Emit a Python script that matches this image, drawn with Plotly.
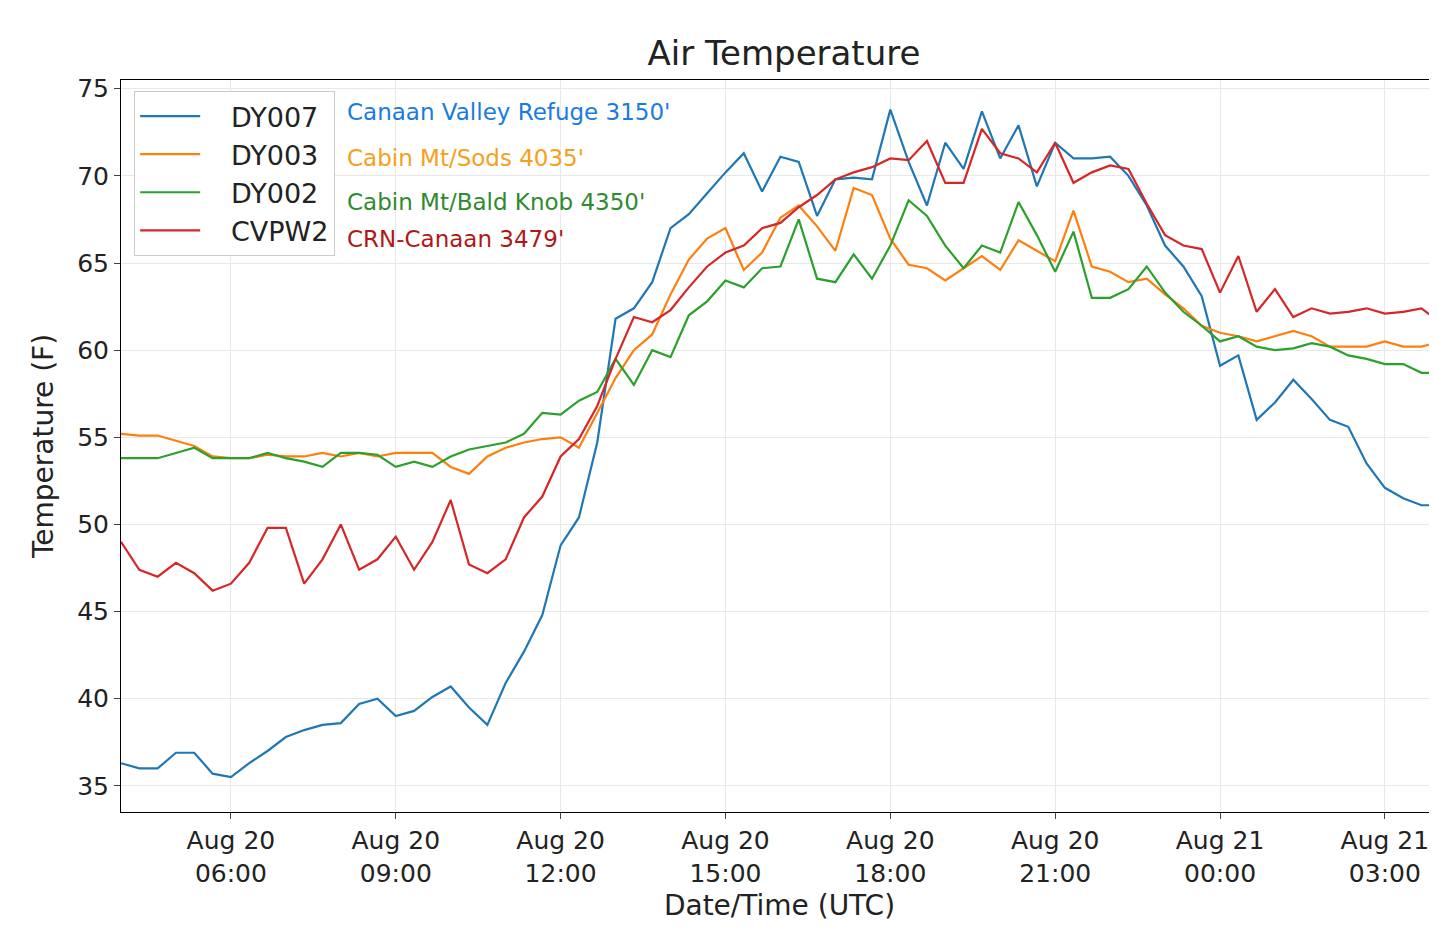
import pandas as pd
import plotly.graph_objects as go

# 20-minute observations starting Aug 20 04:00 UTC
start = "2018-08-20 04:00"

dy007 = [36.3, 36.0, 36.0, 36.9, 36.9, 35.7, 35.5, 36.3, 37.0, 37.8, 38.2, 38.5, 38.6, 39.7, 40.0, 39.0,
         39.3, 40.1, 40.7, 39.5, 38.5, 40.9, 42.7, 44.8, 48.8, 50.4, 54.7, 61.8, 62.4, 63.9, 67.0, 67.8,
         69.0, 70.2, 71.3, 69.1, 71.1, 70.8, 67.7, 69.8, 69.9, 69.8, 73.8, 70.8, 68.3, 71.9, 70.4, 73.7,
         71.0, 72.9, 69.4, 71.9, 71.0, 71.0, 71.1, 70.0, 68.3, 66.0, 64.8, 63.1, 59.1, 59.7, 56.0, 57.0,
         58.3, 57.2, 56.0, 55.6, 53.5, 52.1, 51.5, 51.1, 51.1]
dy003 = [55.2, 55.1, 55.1, 54.8, 54.5, 53.9, 53.8, 53.8, 54.0, 53.9, 53.9, 54.1, 53.9, 54.1, 53.9, 54.1,
         54.1, 54.1, 53.3, 52.9, 53.9, 54.4, 54.7, 54.9, 55.0, 54.4, 56.4, 58.4, 60.0, 60.9, 63.2, 65.2,
         66.4, 67.0, 64.6, 65.6, 67.6, 68.3, 67.1, 65.7, 69.3, 68.9, 66.4, 64.9, 64.7, 64.0, 64.7, 65.4,
         64.6, 66.3, 65.7, 65.1, 68.0, 64.8, 64.5, 63.9, 64.1, 63.2, 62.4, 61.4, 61.0, 60.8, 60.5, 60.8,
         61.1, 60.8, 60.2, 60.2, 60.2, 60.5, 60.2, 60.2, 60.5]
dy002 = [53.8, 53.8, 53.8, 54.1, 54.4, 53.8, 53.8, 53.8, 54.1, 53.8, 53.6, 53.3, 54.1, 54.1, 54.0, 53.3,
         53.6, 53.3, 53.9, 54.3, 54.5, 54.7, 55.2, 56.4, 56.3, 57.1, 57.6, 59.5, 58.0, 60.0, 59.6, 62.0,
         62.8, 64.0, 63.6, 64.7, 64.8, 67.5, 64.1, 63.9, 65.5, 64.1, 66.0, 68.6, 67.7, 66.0, 64.7, 66.0,
         65.6, 68.5, 66.6, 64.5, 66.8, 63.0, 63.0, 63.5, 64.8, 63.3, 62.2, 61.4, 60.5, 60.8, 60.2, 60.0,
         60.1, 60.4, 60.2, 59.7, 59.5, 59.2, 59.2, 58.7, 58.7]
cvpw2 = [49.0, 47.4, 47.0, 47.8, 47.2, 46.2, 46.6, 47.8, 49.8, 49.8, 46.6, 48.0, 50.0, 47.4, 48.0, 49.3,
         47.4, 49.0, 51.4, 47.7, 47.2, 48.0, 50.4, 51.6, 53.9, 54.9, 56.8, 59.5, 61.9, 61.6, 62.3, 63.6,
         64.8, 65.6, 66.0, 67.0, 67.3, 68.2, 68.9, 69.8, 70.2, 70.5, 71.0, 70.9, 72.0, 69.6, 69.6, 72.7,
         71.3, 71.0, 70.2, 71.9, 69.6, 70.2, 70.6, 70.4, 68.4, 66.6, 66.0, 65.8, 63.3, 65.4, 62.2, 63.5,
         61.9, 62.4, 62.1, 62.2, 62.4, 62.1, 62.2, 62.4, 61.6]

stations = ["DY007", "DY003", "DY002", "CVPW2"]
labels = ["Canaan Valley Refuge 3150'", "Cabin Mt/Sods 4035'",
          "Cabin Mt/Bald Knob 4350'", "CRN-Canaan 3479'"]
line_colors = ["#1f77b4", "#ff7f0e", "#2ca02c", "#d62728"]
label_colors = ["#1a7be0", "#f5a020", "#2e8b2e", "#b01818"]

times = pd.date_range(start, periods=len(dy007), freq="20min")

fig = go.Figure()
for name, vals, c in zip(stations, [dy007, dy003, dy002, cvpw2], line_colors):
    fig.add_trace(go.Scatter(x=times, y=vals, name="   " + name, mode="lines",
                             line=dict(color=c, width=2.2)))

# station descriptions next to legend
for lab, c, yy in zip(labels, label_colors, [0.956, 0.893, 0.833, 0.783]):
    fig.add_annotation(text=lab, xref="paper", yref="paper", x=0.17, y=yy,
                       xanchor="left", yanchor="middle", showarrow=False,
                       font=dict(size=23, color=c))

tickvals = pd.date_range("2018-08-20 06:00", periods=8, freq="3h")
fig.update_layout(
    width=1437, height=944,
    paper_bgcolor="white", plot_bgcolor="white",
    font=dict(family="DejaVu Sans", color="#222"),
    title=dict(text="Air Temperature", x=0.54, xanchor="center", y=0.965,
               font=dict(size=34, color="#222")),
    margin=dict(l=113, r=7, t=72, b=140),
    legend=dict(x=0.01, y=0.985, xanchor="left", yanchor="top",
                bordercolor="#ccc", borderwidth=1, bgcolor="white",
                font=dict(size=27), itemwidth=60),
    xaxis=dict(title=dict(text="Date/Time (UTC)", font=dict(size=28), standoff=8),
               range=[times[0], pd.Timestamp("2018-08-21 03:58")],
               tickvals=tickvals, ticktext=[t.strftime("%b %d<br>%H:%M") for t in tickvals],
               tickfont=dict(size=25), showgrid=True, gridcolor="#e8e8e8",
               showline=True, linecolor="black", mirror=True, ticks="outside",
               ticklen=6, zeroline=False),
    yaxis=dict(title=dict(text="Temperature (F)", font=dict(size=28)),
               range=[33.5, 75.5], tickvals=list(range(35, 80, 5)),
               tickfont=dict(size=25), showgrid=True, gridcolor="#e8e8e8",
               showline=True, linecolor="black", mirror=True, ticks="outside",
               ticklen=6, zeroline=False),
)

fig.write_html("out.html")
